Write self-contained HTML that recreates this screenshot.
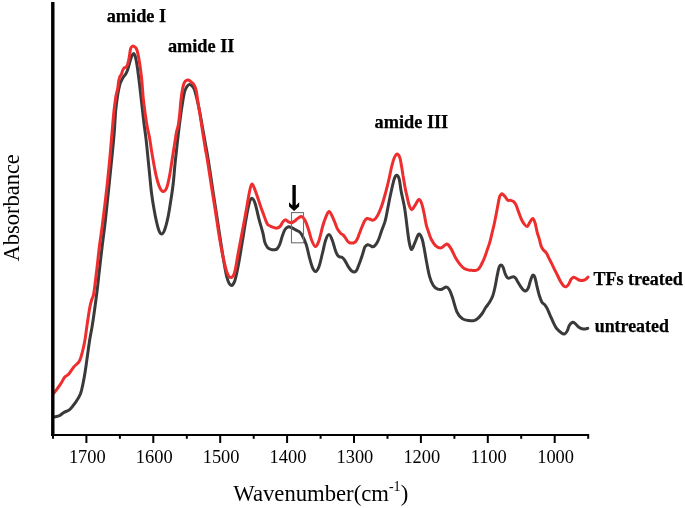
<!DOCTYPE html>
<html><head><meta charset="utf-8"><style>
html,body{margin:0;padding:0;background:#fff;}
svg{display:block;filter:blur(0.35px);}
.tl{font-family:"Liberation Serif",serif;font-size:18.4px;fill:#000;}
.ax{font-family:"Liberation Serif",serif;font-size:22.7px;fill:#000;}
.an{font-family:"Liberation Serif",serif;font-size:18.3px;font-weight:bold;fill:#000;stroke:#000;stroke-width:0.25px;}
</style></head><body>
<svg width="685" height="508" viewBox="0 0 685 508">
<rect width="685" height="508" fill="#fff"/>
<path d="M53.5,417.0 C54.0,416.9 55.5,416.8 56.5,416.5 C57.5,416.2 58.6,416.2 59.8,415.5 C61.0,414.8 62.1,413.5 63.8,412.5 C65.5,411.5 67.9,411.1 69.7,409.6 C71.5,408.1 72.8,406.3 74.6,403.7 C76.4,401.1 79.0,397.9 80.5,393.8 C82.0,389.7 82.9,384.1 83.9,379.0 C84.9,373.9 85.5,369.5 86.4,363.3 C87.3,357.1 88.4,348.3 89.4,341.7 C90.4,335.1 91.4,331.3 92.6,323.5 C93.8,315.7 95.4,303.9 96.6,294.8 C97.8,285.8 98.5,277.7 99.5,269.2 C100.5,260.7 101.5,251.6 102.5,243.6 C103.5,235.6 104.3,230.1 105.3,221.0 C106.3,211.9 107.6,199.2 108.7,188.9 C109.8,178.6 110.8,168.3 111.7,159.4 C112.6,150.5 113.3,143.8 114.0,135.7 C114.7,127.6 115.1,117.5 115.7,110.7 C116.3,103.9 117.0,99.2 117.7,94.9 C118.4,90.6 119.1,87.4 119.7,85.1 C120.3,82.8 120.6,82.5 121.2,81.2 C121.8,79.9 122.5,78.4 123.2,77.2 C123.9,76.0 124.9,75.5 125.6,74.3 C126.3,73.1 126.8,72.1 127.5,70.3 C128.2,68.5 128.8,65.7 129.5,63.4 C130.2,61.1 130.8,58.2 131.5,56.6 C132.2,55.0 132.8,53.8 133.4,53.6 C134.0,53.4 134.5,54.3 135.0,55.6 C135.5,56.9 135.8,58.2 136.4,61.5 C137.0,64.8 137.8,70.3 138.4,75.2 C139.1,80.1 139.7,85.4 140.3,91.0 C141.0,96.6 141.7,103.5 142.3,108.7 C142.9,113.9 143.2,116.8 143.8,122.0 C144.4,127.2 145.2,131.8 146.1,139.7 C147.0,147.6 148.2,160.3 149.1,169.2 C150.0,178.0 150.7,186.1 151.5,192.8 C152.3,199.5 153.2,204.5 154.1,209.4 C154.9,214.3 155.8,218.6 156.6,222.2 C157.4,225.8 158.3,229.0 159.1,231.0 C159.9,233.0 160.8,234.1 161.6,234.1 C162.4,234.1 163.3,233.0 164.2,231.0 C165.1,229.0 166.0,225.8 166.9,222.2 C167.8,218.6 168.6,214.3 169.4,209.4 C170.2,204.5 171.3,197.7 172.0,192.8 C172.7,187.9 173.1,185.1 173.6,180.0 C174.1,174.9 174.5,168.9 175.2,162.0 C175.9,155.1 176.9,146.5 177.8,138.7 C178.7,130.9 179.8,121.7 180.7,115.1 C181.6,108.5 182.5,103.0 183.1,99.3 C183.7,95.6 183.9,94.7 184.3,93.0 C184.7,91.3 185.1,90.1 185.6,89.0 C186.1,87.9 186.6,86.9 187.2,86.2 C187.8,85.5 188.4,84.9 189.0,84.7 C189.6,84.5 190.2,84.6 190.8,84.9 C191.4,85.2 192.0,85.8 192.6,86.6 C193.2,87.4 193.7,87.3 194.5,89.8 C195.3,92.2 196.5,97.1 197.5,101.3 C198.5,105.5 199.4,110.2 200.3,115.1 C201.2,120.0 202.2,125.6 203.1,130.8 C204.0,136.1 205.1,141.8 205.9,146.6 C206.8,151.4 207.0,152.1 208.2,159.4 C209.4,166.8 211.3,179.9 212.9,190.7 C214.5,201.4 216.3,212.8 218.0,223.9 C219.7,235.0 221.6,248.2 223.1,257.1 C224.6,266.1 225.7,272.9 227.0,277.6 C228.3,282.3 229.5,284.6 230.8,285.2 C232.1,285.8 233.3,284.8 234.6,281.4 C235.9,278.0 237.1,271.4 238.4,264.8 C239.7,258.2 241.0,249.5 242.3,241.8 C243.6,234.1 244.9,225.2 246.1,218.8 C247.2,212.4 248.3,206.8 249.2,203.4 C250.1,200.0 250.7,198.3 251.7,198.3 C252.7,198.3 253.9,200.0 255.1,203.4 C256.3,206.8 257.6,213.9 258.9,218.8 C260.2,223.7 261.9,229.2 262.9,233.0 C263.9,236.8 264.0,239.5 264.7,241.9 C265.4,244.3 266.3,245.9 267.3,247.2 C268.3,248.4 269.6,249.0 270.8,249.4 C272.0,249.8 273.4,249.9 274.4,249.8 C275.4,249.7 276.1,249.8 277.0,248.9 C277.9,248.0 278.8,246.7 279.7,244.5 C280.6,242.3 281.5,238.2 282.4,235.7 C283.3,233.2 284.0,231.0 285.0,229.5 C286.0,228.0 287.4,227.1 288.5,226.8 C289.6,226.5 290.4,227.2 291.6,227.7 C292.8,228.2 294.3,229.2 295.6,229.9 C296.9,230.6 298.2,230.9 299.2,231.7 C300.2,232.5 300.6,232.7 301.8,234.8 C303.0,236.9 304.9,240.6 306.2,244.4 C307.5,248.2 308.3,253.4 309.4,257.4 C310.5,261.4 311.6,265.8 312.7,268.2 C313.8,270.6 314.8,271.9 315.9,271.5 C317.0,271.1 318.1,269.2 319.2,266.1 C320.3,263.0 321.4,257.4 322.5,253.0 C323.6,248.7 324.6,243.1 325.7,240.0 C326.8,236.9 327.9,234.6 329.0,234.6 C330.1,234.6 331.1,237.2 332.2,240.0 C333.3,242.8 334.8,248.8 335.7,251.3 C336.6,253.8 336.7,253.9 337.3,254.8 C337.9,255.7 338.7,256.4 339.5,256.8 C340.3,257.2 341.1,256.7 341.9,257.2 C342.7,257.7 343.5,258.5 344.3,259.6 C345.1,260.7 345.8,262.2 346.6,263.6 C347.4,265.0 348.2,266.5 349.0,267.7 C349.8,268.9 350.5,270.0 351.4,270.7 C352.3,271.4 353.4,272.2 354.3,272.1 C355.2,272.0 356.0,271.1 356.7,270.1 C357.4,269.1 357.8,267.5 358.4,266.0 C359.0,264.5 359.6,262.9 360.2,261.2 C360.8,259.5 361.5,257.6 362.0,256.0 C362.5,254.4 362.9,253.0 363.4,251.5 C363.9,250.0 364.3,247.9 365.0,246.8 C365.7,245.7 366.7,244.9 367.6,244.7 C368.5,244.5 369.4,245.2 370.3,245.6 C371.2,245.9 372.0,247.0 372.9,246.8 C373.8,246.7 374.8,245.7 375.6,244.7 C376.5,243.7 377.3,242.4 378.0,240.9 C378.7,239.4 379.4,237.4 380.0,235.6 C380.6,233.8 381.2,232.0 381.8,230.3 C382.4,228.6 383.1,227.0 383.6,225.5 C384.1,224.0 384.6,223.1 385.0,221.5 C385.4,219.9 385.7,219.1 386.3,216.0 C386.9,212.9 388.0,207.1 388.8,203.0 C389.6,198.9 390.4,195.1 391.2,191.5 C392.0,187.9 392.9,183.9 393.5,181.5 C394.1,179.1 394.5,178.0 395.0,177.0 C395.5,176.0 396.0,175.4 396.5,175.3 C397.0,175.2 397.7,175.6 398.2,176.5 C398.7,177.4 399.1,178.5 399.6,181.0 C400.1,183.5 400.4,187.3 401.2,191.5 C402.0,195.7 403.5,201.8 404.3,206.2 C405.1,210.6 405.4,213.4 406.0,218.0 C406.6,222.6 407.3,229.0 407.9,233.5 C408.5,238.0 409.1,242.3 409.8,245.0 C410.5,247.7 410.9,249.9 411.8,249.5 C412.7,249.1 413.8,245.0 415.0,242.4 C416.2,239.8 417.6,234.7 418.8,234.1 C420.0,233.5 421.1,236.2 422.0,238.6 C422.9,241.0 423.5,244.9 424.2,248.5 C424.9,252.1 425.3,255.3 426.2,260.0 C427.1,264.7 428.4,272.4 429.6,276.6 C430.8,280.9 432.0,283.4 433.3,285.5 C434.6,287.6 436.2,288.6 437.7,289.2 C439.2,289.8 440.7,289.6 442.1,289.2 C443.5,288.8 445.1,286.9 446.3,287.0 C447.5,287.1 448.5,288.2 449.5,289.9 C450.5,291.6 451.2,293.6 452.4,297.3 C453.6,301.0 455.3,308.3 456.9,311.9 C458.5,315.4 460.2,317.2 462.2,318.6 C464.2,320.1 466.9,320.3 468.9,320.6 C470.8,320.9 472.4,321.0 473.9,320.6 C475.4,320.2 476.6,319.4 477.9,318.3 C479.2,317.2 480.5,315.8 481.8,314.0 C483.1,312.2 484.4,309.5 485.7,307.5 C487.0,305.5 488.5,304.0 489.7,302.0 C490.9,300.0 491.9,298.3 492.8,295.7 C493.7,293.1 494.5,289.5 495.2,286.2 C495.9,282.9 496.5,279.1 497.1,276.0 C497.8,272.9 498.4,269.1 499.1,267.3 C499.8,265.5 500.5,265.0 501.2,265.0 C501.9,265.0 502.4,265.7 503.1,267.3 C503.8,268.9 504.6,272.6 505.4,274.4 C506.2,276.2 506.9,277.5 507.8,278.0 C508.7,278.5 509.7,277.8 510.6,277.6 C511.5,277.4 512.4,276.7 513.3,276.8 C514.1,276.9 514.9,277.4 515.7,278.3 C516.5,279.2 517.2,281.0 518.0,282.3 C518.8,283.6 519.5,284.9 520.4,286.2 C521.3,287.5 522.6,289.4 523.5,290.2 C524.4,291.0 525.1,291.3 525.9,290.9 C526.7,290.5 527.6,289.4 528.3,287.8 C529.0,286.2 529.5,283.6 530.2,281.5 C530.9,279.4 531.8,276.2 532.5,275.4 C533.2,274.6 534.0,275.2 534.7,276.8 C535.4,278.4 536.0,282.0 536.7,285.1 C537.5,288.2 538.4,292.4 539.2,295.2 C540.1,298.0 540.8,300.2 541.8,301.9 C542.8,303.6 544.1,303.9 545.1,305.2 C546.1,306.4 546.8,307.7 547.6,309.4 C548.4,311.1 549.1,313.1 550.1,315.3 C551.1,317.5 552.4,320.6 553.5,322.8 C554.6,325.0 555.5,327.1 556.8,328.7 C558.0,330.3 559.7,331.7 561.0,332.6 C562.3,333.5 563.4,334.3 564.5,334.0 C565.6,333.7 566.6,332.1 567.4,330.6 C568.2,329.2 568.5,326.7 569.4,325.3 C570.3,323.9 571.7,322.6 572.7,322.3 C573.7,322.0 574.3,322.9 575.3,323.7 C576.3,324.5 577.5,326.2 578.6,327.0 C579.7,327.8 580.9,328.4 582.0,328.7 C583.1,329.0 584.3,329.1 585.3,329.0 C586.3,328.9 587.4,328.5 587.8,328.4" fill="none" stroke="#3a3a3a" stroke-width="3.0" stroke-linejoin="round" stroke-linecap="round"/>
<path d="M53.5,393.5 C54.2,392.6 56.6,389.7 57.9,387.9 C59.2,386.1 60.4,384.3 61.5,382.5 C62.6,380.7 63.6,378.5 64.8,377.1 C66.0,375.7 67.2,375.8 68.7,374.1 C70.2,372.5 71.8,369.4 73.6,367.2 C75.4,365.0 78.0,363.5 79.5,360.9 C81.0,358.3 81.6,355.0 82.5,351.5 C83.4,348.0 84.2,344.6 85.0,339.7 C85.8,334.8 86.7,327.3 87.5,322.0 C88.3,316.7 89.0,311.7 89.7,308.0 C90.4,304.3 90.9,302.5 91.6,300.0 C92.3,297.5 92.9,298.3 93.8,293.2 C94.7,288.1 95.8,277.4 96.8,269.5 C97.8,261.6 98.5,253.2 99.5,245.6 C100.5,238.0 101.3,233.3 102.5,223.9 C103.7,214.5 105.5,199.7 106.7,188.9 C107.9,178.2 108.8,168.7 109.7,159.4 C110.6,150.1 111.3,140.8 112.0,133.0 C112.7,125.2 113.2,118.6 113.8,112.6 C114.4,106.6 115.2,100.9 115.8,97.0 C116.4,93.1 117.1,91.7 117.6,89.0 C118.1,86.3 118.3,83.1 118.7,81.0 C119.1,78.9 119.5,77.7 119.9,76.6 C120.4,75.5 120.9,75.5 121.4,74.4 C121.9,73.3 122.3,71.1 122.8,70.0 C123.3,68.9 123.8,68.1 124.4,67.6 C125.0,67.1 125.6,67.8 126.2,67.1 C126.8,66.4 127.4,65.2 127.9,63.4 C128.4,61.6 129.0,58.7 129.4,56.2 C129.8,53.7 130.1,50.3 130.6,48.6 C131.1,46.9 131.8,46.3 132.5,46.1 C133.2,45.9 134.4,46.6 135.1,47.2 C135.8,47.8 136.3,48.4 136.8,49.6 C137.3,50.8 137.6,52.2 138.1,54.6 C138.6,57.0 139.1,59.7 139.7,63.8 C140.3,67.9 141.1,73.4 141.7,79.3 C142.3,85.2 142.7,92.7 143.3,98.9 C144.0,105.1 144.9,111.5 145.6,116.6 C146.3,121.7 147.0,125.8 147.7,129.4 C148.4,133.0 148.9,134.0 149.6,138.0 C150.3,142.0 150.9,147.3 152.0,153.5 C153.1,159.7 154.7,169.4 156.0,175.1 C157.3,180.8 158.7,185.2 159.9,187.9 C161.1,190.6 162.0,191.5 163.1,191.5 C164.2,191.5 165.5,190.7 166.6,188.0 C167.7,185.3 168.7,180.4 169.7,175.1 C170.7,169.8 171.8,161.4 172.7,156.0 C173.5,150.6 174.2,146.7 174.8,142.6 C175.5,138.5 176.0,134.4 176.6,131.5 C177.2,128.6 177.8,127.8 178.3,125.0 C178.8,122.2 179.2,118.6 179.6,115.0 C180.0,111.4 180.3,106.6 180.6,103.3 C180.9,100.0 181.3,97.2 181.6,95.0 C181.9,92.8 182.1,91.6 182.4,90.0 C182.7,88.4 182.9,86.9 183.3,85.5 C183.7,84.1 184.3,82.6 184.8,81.8 C185.3,81.0 186.0,80.7 186.5,80.4 C187.0,80.1 187.4,80.0 188.0,80.1 C188.6,80.2 189.2,80.4 189.8,80.8 C190.4,81.2 190.8,81.7 191.4,82.2 C192.0,82.7 192.8,83.1 193.4,83.9 C194.0,84.7 194.6,85.7 195.1,87.0 C195.6,88.3 195.9,88.8 196.4,91.5 C196.9,94.2 197.4,99.0 198.1,103.3 C198.8,107.6 199.6,111.8 200.4,117.1 C201.2,122.3 202.3,129.6 203.1,134.8 C203.9,140.0 204.6,144.4 205.3,148.5 C206.0,152.6 206.3,153.2 207.3,159.4 C208.3,165.6 210.0,177.0 211.3,185.6 C212.7,194.2 214.1,202.6 215.4,211.1 C216.7,219.6 218.0,229.0 219.3,236.7 C220.6,244.4 221.8,251.1 223.1,257.1 C224.4,263.1 225.7,269.1 227.0,272.5 C228.3,275.9 229.5,277.6 230.8,277.6 C232.1,277.6 233.3,276.8 234.6,272.5 C235.9,268.2 237.1,258.8 238.4,252.0 C239.7,245.2 241.0,238.4 242.3,231.6 C243.6,224.8 244.9,217.5 246.1,211.1 C247.2,204.7 248.3,197.7 249.2,193.2 C250.1,188.7 250.8,185.2 251.7,184.3 C252.5,183.5 253.2,185.6 254.3,188.1 C255.4,190.6 257.1,195.9 258.2,199.1 C259.3,202.3 260.0,204.6 260.9,207.2 C261.8,209.8 262.8,212.2 263.6,214.5 C264.4,216.8 265.2,219.2 265.9,220.8 C266.6,222.5 266.9,223.5 267.7,224.4 C268.5,225.3 269.8,225.9 270.8,226.4 C271.8,226.9 272.5,227.1 273.5,227.4 C274.5,227.7 275.9,228.3 277.0,228.1 C278.1,227.9 279.1,227.4 280.1,226.4 C281.1,225.4 281.9,223.0 282.8,221.9 C283.7,220.8 284.6,219.7 285.5,219.7 C286.4,219.7 287.5,221.4 288.5,221.9 C289.5,222.4 290.6,222.9 291.6,222.8 C292.6,222.7 293.6,221.9 294.7,221.1 C295.8,220.3 297.1,218.8 298.3,218.0 C299.5,217.2 300.7,216.2 301.8,216.6 C302.9,217.0 304.0,218.4 305.1,220.5 C306.2,222.6 307.3,225.9 308.4,229.2 C309.5,232.4 310.5,237.1 311.6,240.0 C312.8,242.9 314.1,246.3 315.3,246.5 C316.5,246.7 317.6,244.3 318.8,241.1 C320.0,237.8 321.4,231.0 322.5,227.0 C323.6,223.0 324.6,219.9 325.7,217.3 C326.8,214.7 327.9,211.6 329.0,211.4 C330.1,211.2 331.1,214.1 332.2,216.2 C333.3,218.3 334.5,221.7 335.4,223.9 C336.3,226.1 336.9,228.1 337.8,229.6 C338.7,231.1 339.7,232.3 340.6,233.2 C341.5,234.1 342.4,234.3 343.2,235.0 C344.0,235.7 344.5,236.5 345.2,237.5 C345.9,238.5 346.6,240.0 347.3,240.8 C348.0,241.7 348.5,242.2 349.3,242.6 C350.1,243.0 351.1,243.1 351.9,243.1 C352.7,243.1 353.5,243.0 354.2,242.6 C354.9,242.2 355.6,241.7 356.2,240.8 C356.8,239.9 357.4,238.6 358.0,237.3 C358.6,236.0 358.9,234.7 359.5,233.2 C360.1,231.7 360.7,229.9 361.3,228.5 C361.9,227.1 362.4,225.8 363.0,224.5 C363.6,223.2 363.9,221.8 364.6,220.8 C365.3,219.8 366.2,218.8 367.0,218.5 C367.8,218.2 368.7,218.7 369.6,219.0 C370.5,219.3 371.4,220.3 372.4,220.3 C373.4,220.3 374.5,219.7 375.4,218.8 C376.3,217.9 377.2,216.1 378.0,214.7 C378.8,213.2 379.4,212.0 380.1,210.1 C380.9,208.2 381.8,205.8 382.5,203.5 C383.2,201.2 383.9,198.8 384.5,196.5 C385.1,194.2 385.6,192.9 386.3,190.0 C387.1,187.1 388.1,183.0 389.0,179.0 C389.9,175.0 390.9,169.5 391.8,166.0 C392.7,162.5 393.3,160.0 394.2,158.0 C395.1,156.0 396.1,154.0 397.0,153.9 C397.9,153.8 399.1,155.5 399.8,157.5 C400.6,159.5 400.9,162.9 401.5,166.0 C402.1,169.1 402.6,172.7 403.1,176.0 C403.7,179.3 404.3,183.3 404.8,186.0 C405.3,188.7 405.6,190.1 406.0,192.0 C406.4,193.9 406.8,195.4 407.3,197.6 C407.8,199.8 408.4,203.3 409.2,205.3 C409.9,207.3 410.8,209.7 411.8,209.7 C412.8,209.7 413.8,207.0 415.0,205.3 C416.2,203.6 417.7,199.9 418.8,199.5 C419.9,199.1 420.5,200.5 421.4,202.7 C422.3,204.9 423.2,209.2 424.0,212.9 C424.8,216.6 425.5,221.6 426.2,224.7 C426.9,227.8 427.6,229.1 428.4,231.5 C429.2,233.9 429.9,236.7 431.1,239.0 C432.3,241.3 433.9,244.1 435.5,245.6 C437.1,247.1 439.1,247.9 440.6,247.9 C442.1,247.9 443.2,246.2 444.3,245.6 C445.4,245.0 446.2,243.7 447.3,244.2 C448.4,244.7 449.6,246.4 451.0,248.6 C452.4,250.8 453.9,254.8 455.4,257.4 C456.9,260.0 458.3,262.2 459.8,264.1 C461.3,266.0 462.6,267.5 464.2,268.5 C465.8,269.5 468.0,269.9 469.4,270.2 C470.8,270.5 471.5,270.3 472.5,270.4 C473.5,270.4 474.5,270.7 475.5,270.5 C476.5,270.3 477.6,269.8 478.4,269.1 C479.2,268.4 479.8,267.4 480.5,266.2 C481.2,265.0 481.9,263.5 482.6,262.0 C483.3,260.5 484.1,258.8 484.8,257.0 C485.5,255.2 486.1,253.2 486.7,251.4 C487.3,249.7 487.9,248.1 488.4,246.5 C488.9,244.9 489.3,244.2 489.9,241.9 C490.5,239.6 491.4,235.8 492.2,232.5 C493.0,229.2 493.9,225.7 494.6,222.2 C495.4,218.7 495.9,215.6 496.7,211.5 C497.5,207.4 498.6,200.6 499.3,197.8 C500.0,195.0 500.3,195.5 500.8,194.8 C501.3,194.1 501.6,193.5 502.3,193.8 C503.0,194.1 504.3,195.7 505.2,196.8 C506.1,197.9 506.8,199.6 507.7,200.2 C508.6,200.8 509.6,200.1 510.6,200.3 C511.6,200.6 512.7,200.9 513.6,201.7 C514.5,202.5 515.3,203.5 516.1,205.2 C516.9,206.8 517.6,209.2 518.5,211.6 C519.4,214.0 520.5,217.4 521.5,219.5 C522.5,221.6 523.4,223.2 524.4,224.4 C525.4,225.6 526.5,226.7 527.4,226.4 C528.3,226.1 528.9,223.7 529.8,222.4 C530.7,221.1 531.9,218.3 532.8,218.5 C533.7,218.7 534.5,221.1 535.2,223.4 C535.9,225.7 536.5,229.8 537.2,232.3 C537.9,234.9 538.5,236.3 539.2,238.7 C539.9,241.1 540.6,244.7 541.3,246.6 C542.0,248.5 542.8,249.2 543.6,250.2 C544.4,251.2 545.4,251.5 546.3,252.8 C547.2,254.1 548.0,256.3 548.9,258.1 C549.8,259.9 550.7,261.6 551.6,263.4 C552.5,265.2 553.3,267.0 554.2,268.8 C555.1,270.6 555.9,272.0 556.9,274.1 C557.9,276.2 559.3,279.2 560.4,281.2 C561.5,283.1 562.6,284.9 563.6,285.8 C564.6,286.7 565.2,287.1 566.1,286.8 C567.0,286.5 568.0,285.2 568.8,284.0 C569.6,282.8 570.2,280.5 571.0,279.4 C571.8,278.3 572.8,277.4 573.7,277.3 C574.6,277.2 575.4,278.0 576.4,278.5 C577.4,279.0 578.7,280.0 579.9,280.3 C581.1,280.6 582.4,280.5 583.4,280.3 C584.4,280.1 585.3,279.6 586.1,279.0 C586.9,278.4 587.7,277.3 588.0,277.0" fill="none" stroke="#ee2e2e" stroke-width="3.0" stroke-linejoin="round" stroke-linecap="round"/>
<rect x="291.5" y="212.6" width="12" height="30.2" fill="none" stroke="#707070" stroke-width="1.1"/>
<polygon points="292.4,185 292.4,205.4 289,202.2 289.1,206.6 294.1,211 299.1,206.6 299.2,202.2 295.8,205.4 295.8,185" fill="#000"/>
<line x1="52.8" y1="2" x2="52.8" y2="436" stroke="#000" stroke-width="3.4"/>
<line x1="51" y1="434.9" x2="589" y2="434.9" stroke="#000" stroke-width="2"/>
<line x1="53.0" y1="434" x2="53.0" y2="438.8" stroke="#000" stroke-width="2"/><line x1="86.4" y1="434" x2="86.4" y2="443.0" stroke="#000" stroke-width="2"/><line x1="119.9" y1="434" x2="119.9" y2="438.8" stroke="#000" stroke-width="2"/><line x1="153.3" y1="434" x2="153.3" y2="443.0" stroke="#000" stroke-width="2"/><line x1="186.8" y1="434" x2="186.8" y2="438.8" stroke="#000" stroke-width="2"/><line x1="220.2" y1="434" x2="220.2" y2="443.0" stroke="#000" stroke-width="2"/><line x1="253.7" y1="434" x2="253.7" y2="438.8" stroke="#000" stroke-width="2"/><line x1="287.1" y1="434" x2="287.1" y2="443.0" stroke="#000" stroke-width="2"/><line x1="320.6" y1="434" x2="320.6" y2="438.8" stroke="#000" stroke-width="2"/><line x1="354.0" y1="434" x2="354.0" y2="443.0" stroke="#000" stroke-width="2"/><line x1="387.5" y1="434" x2="387.5" y2="438.8" stroke="#000" stroke-width="2"/><line x1="420.9" y1="434" x2="420.9" y2="443.0" stroke="#000" stroke-width="2"/><line x1="454.4" y1="434" x2="454.4" y2="438.8" stroke="#000" stroke-width="2"/><line x1="487.8" y1="434" x2="487.8" y2="443.0" stroke="#000" stroke-width="2"/><line x1="521.2" y1="434" x2="521.2" y2="438.8" stroke="#000" stroke-width="2"/><line x1="554.7" y1="434" x2="554.7" y2="443.0" stroke="#000" stroke-width="2"/><line x1="588.2" y1="434" x2="588.2" y2="438.8" stroke="#000" stroke-width="2"/>
<text x="87.3" y="463" text-anchor="middle" class="tl">1700</text><text x="154.2" y="463" text-anchor="middle" class="tl">1600</text><text x="221.1" y="463" text-anchor="middle" class="tl">1500</text><text x="288.0" y="463" text-anchor="middle" class="tl">1400</text><text x="354.9" y="463" text-anchor="middle" class="tl">1300</text><text x="421.8" y="463" text-anchor="middle" class="tl">1200</text><text x="488.7" y="463" text-anchor="middle" class="tl">1100</text><text x="555.6" y="463" text-anchor="middle" class="tl">1000</text>
<text x="233.3" y="500.5" class="ax">Wavenumber(cm<tspan dy="-9.2" font-size="14px">-1</tspan><tspan dy="9.2">)</tspan></text>
<text transform="translate(19.3,261.6) rotate(-90)" x="0" y="0" class="ax" style="font-size:22.5px">Absorbance</text>
<text x="106.7" y="21.5" class="an">amide I</text>
<text x="167.9" y="51.5" class="an">amide II</text>
<text x="374.6" y="127.7" class="an">amide III</text>
<text x="593.6" y="284.6" class="an" style="font-size:18px">TFs treated</text>
<text x="594.7" y="331.9" class="an" style="font-size:17.9px">untreated</text>
</svg>
</body></html>
